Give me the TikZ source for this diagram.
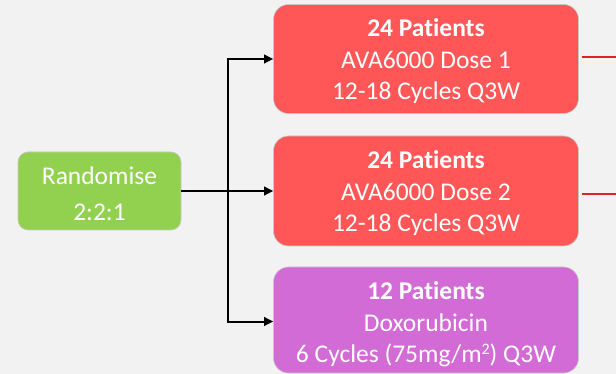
\documentclass[tikz,border=0pt]{standalone}
\usepackage{fontspec}
\setmainfont[Ligatures=NoCommon]{Carlito}
\usetikzlibrary{arrows.meta,calc}
\definecolor{bg}{HTML}{F2F2F2}
\definecolor{grn}{HTML}{92D050}
\definecolor{rd}{HTML}{FF5757}
\definecolor{pur}{HTML}{D36BD6}
\definecolor{rline}{HTML}{E02222}
\definecolor{edge}{HTML}{C8C8C8}
\newcommand{\mysup}[1]{\raisebox{0.3em}{\fontsize{16}{16}\selectfont #1}}
\tikzset{
  box/.style={rectangle, draw=edge, line width=0.6pt, minimum width=305pt, inner sep=0pt},
  redbox/.style={box, fill=rd, rounded corners=15pt},
  purbox/.style={box, fill=pur, rounded corners=15pt},
  grnbox/.style={box, fill=grn, rounded corners=10pt, minimum width=163pt, minimum height=78pt},
  txt/.style={text=white, align=center, inner sep=0pt, font=\fontsize{25.5}{31.5}\selectfont},
  gtxt/.style={txt, font=\fontsize{25.5}{36}\selectfont},
  arr/.style={line width=2pt, line join=miter, -{Triangle[length=9pt,width=8.5pt]}},
  redline/.style={rline, line width=1.3pt}
}
\begin{document}
\begin{tikzpicture}[x=1pt,y=-1pt]
\fill[bg] (0,0) rectangle (616,374);
\useasboundingbox (0,0) rectangle (616,374);
% boxes
\node[grnbox] (g) at (99.5,191) {};
\node[redbox, minimum height=109pt] (r1) at (426,59) {};
\node[redbox, minimum height=110pt] (r2) at (426,191) {};
\node[purbox, minimum height=106pt] (p) at (426,320) {};
% texts
\node[gtxt] (gt) at (99.5,193.5) {Randomise\\2:2:1};
\node[txt] (r1t) at (426,61.3) {\textbf{24 Patients}\\AVA6000 Dose 1\\12-18 Cycles Q3W};
\node[txt] (r2t) at (426,193.6) {\textbf{24 Patients}\\AVA6000 Dose 2\\12-18 Cycles Q3W};
\node[txt] (pt) at (426,324.3) {\textbf{12 Patients}\\Doxorubicin\\6 Cycles (75mg/m\mysup{2}) Q3W};
% connectors
\coordinate (sp) at (228,191);
\draw[arr] (g.east) -- (r2.west);
\draw[arr] (sp) |- (r1.west);
\draw[arr] (sp) |- ([yshift=-1.5pt]p.west);
% red lines
\coordinate (s1) at (582,57);
\coordinate (e1) at (616,57);
\coordinate (s2) at (582,194);
\coordinate (e2) at (616,194);
\draw[redline] (s1) -- (e1);
\draw[redline] (s2) -- (e2);
\end{tikzpicture}
\end{document}
